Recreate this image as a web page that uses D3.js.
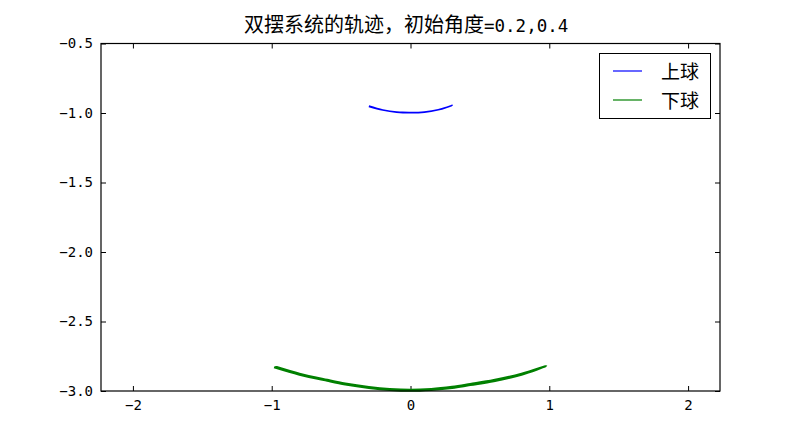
<!DOCTYPE html>
<html>
<head>
<meta charset="utf-8">
<script src="https://cdn.jsdelivr.net/npm/d3@7"></script>
<style>
  body { margin: 0; background: #fff; }
  svg { display: block; }
</style>
</head>
<body>
<svg id="chart" width="800" height="434"></svg>
<script>
// trajectory of the upper ball, back and forth
const upperX = [-0.30, -0.20, -0.10, 0.00, 0.10, 0.20, 0.30, 0.20, 0.10, 0.00, -0.10, -0.20, -0.30];
const upperY = [-0.950, -0.978, -0.994, -0.998, -0.994, -0.976, -0.945, -0.977, -0.993, -0.997, -0.994, -0.979, -0.953];

// trajectory of the lower ball, two passes that almost overlap
const lowerX = [-0.983, -0.80, -0.60, -0.47, -0.30, -0.15, 0.00, 0.15, 0.30, 0.43, 0.60, 0.80, 0.978,
                0.80, 0.60, 0.43, 0.30, 0.15, 0.00, -0.15, -0.30, -0.47, -0.60, -0.80, -0.975];
const lowerY = [-2.829, -2.882, -2.926, -2.952, -2.977, -2.992, -2.998, -2.992, -2.978, -2.957, -2.930, -2.882, -2.820,
                -2.876, -2.922, -2.950, -2.970, -2.986, -2.992, -2.986, -2.971, -2.946, -2.920, -2.876, -2.824];

const xTicks = [-2, -1, 0, 1, 2];
const yTicks = [-3.0, -2.5, -2.0, -1.5, -1.0, -0.5];
const seriesNames = ["上球", "下球"];
const seriesColors = ["#0000ff", "#008000"];

const svg = d3.select("#chart");
const mLeft = 101, mRight = 720, mTop = 43.5, mBottom = 391;

const x = d3.scaleLinear().domain([-2.23, 2.23]).range([mLeft, mRight]);
const y = d3.scaleLinear().domain([-3.0, -0.5]).range([mBottom, mTop]);

const tickFont = "'DejaVu Sans Mono', monospace";

// axes, ticks pointing inwards on all four sides
const gx = svg.append("g").attr("transform", `translate(0,${mBottom})`)
  .call(d3.axisBottom(x).tickValues(xTicks).tickFormat(d3.format("d")).tickSizeInner(-5).tickSizeOuter(0).tickPadding(9));
const gxt = svg.append("g").attr("transform", `translate(0,${mTop})`)
  .call(d3.axisTop(x).tickValues(xTicks).tickFormat("").tickSizeInner(-5).tickSizeOuter(0));
const gy = svg.append("g").attr("transform", `translate(${mLeft},0)`)
  .call(d3.axisLeft(y).tickValues(yTicks).tickFormat(d3.format(".1f")).tickSizeInner(-5).tickSizeOuter(0).tickPadding(8));
const gyr = svg.append("g").attr("transform", `translate(${mRight},0)`)
  .call(d3.axisRight(y).tickValues(yTicks).tickFormat("").tickSizeInner(-5).tickSizeOuter(0));

[gx, gxt, gy, gyr].forEach(g => {
  g.select(".domain").remove();
  g.selectAll("line").attr("stroke", "#000");
  g.selectAll("text").attr("fill", "#000").style("font-family", tickFont).style("font-size", "14px");
});

// lines
const line = d3.line().x(d => x(d[0])).y(d => y(d[1])).curve(d3.curveCatmullRom);
const upper = upperX.map((v, i) => [v, upperY[i]]);
const lower = lowerX.map((v, i) => [v, lowerY[i]]);

svg.append("path").datum(lower).attr("d", line)
  .attr("fill", "none").attr("stroke", seriesColors[1]).attr("stroke-width", 2.2);
svg.append("path").datum(upper).attr("d", line)
  .attr("fill", "none").attr("stroke", seriesColors[0]).attr("stroke-width", 1.6);

// frame
svg.append("rect").attr("x", mLeft).attr("y", mTop)
  .attr("width", mRight - mLeft).attr("height", mBottom - mTop)
  .attr("fill", "none").attr("stroke", "#000").attr("stroke-width", 1.2);

// title
const title = svg.append("text").attr("x", 244).attr("y", 32).attr("fill", "#000");
title.append("tspan").style("font-family", "'Noto Sans CJK SC'").style("font-size", "20px")
  .text("双摆系统的轨迹，初始角度");
title.append("tspan").style("font-family", tickFont).style("font-size", "17.5px")
  .text("=0.2,0.4");

// legend
const lg = svg.append("g");
lg.append("rect").attr("x", 599.5).attr("y", 53.5).attr("width", 111).attr("height", 65)
  .attr("fill", "#fff").attr("stroke", "#000").attr("stroke-width", 1);
seriesNames.forEach((name, i) => {
  const ly = 71 + i * 29;
  lg.append("line").attr("x1", 613).attr("x2", 642).attr("y1", ly).attr("y2", ly)
    .attr("stroke", seriesColors[i]).attr("stroke-width", 1.2);
  lg.append("text").attr("x", 661).attr("y", ly + 7.5)
    .style("font-family", "'Noto Sans CJK SC'").style("font-size", "19px")
    .attr("fill", "#000").text(name);
});
</script>
</body>
</html>
